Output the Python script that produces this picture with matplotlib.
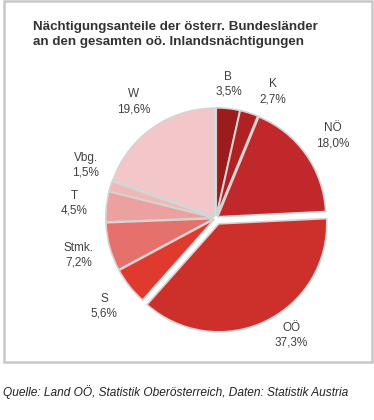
import matplotlib
matplotlib.use("Agg")
import matplotlib.pyplot as plt
from matplotlib.patches import Rectangle

plt.rcParams['font.family'] = ['Liberation Sans', 'DejaVu Sans']

categories = ["B", "K", "NÖ", "OÖ", "S", "Stmk.", "T", "Vbg.", "W"]
values = [3.5, 2.7, 18.0, 37.3, 5.6, 7.2, 4.5, 1.5, 19.6]
value_labels = ["3,5%", "2,7%", "18,0%", "37,3%", "5,6%", "7,2%", "4,5%", "1,5%", "19,6%"]
colors = ["#9b1c1c", "#b02222", "#c0282c", "#cd302a", "#e03a2e",
          "#e4716c", "#eca0a0", "#f1b7b7", "#f3c7c9"]
explode = [0.02, 0.02, 0.02, 0.06, 0.02, 0.02, 0.02, 0.02, 0.02]
# small label nudges (in radius units) to match the original placement
label_nudge = {"Vbg.": (0.06, 0.11), "B": (-0.03, -0.07), "K": (0.13, -0.09),
               "OÖ": (0.11, 0.14)}

W, H = 374, 420
fig = plt.figure(figsize=(W / 100, H / 100), dpi=100)
ax = fig.add_axes([0, 0, 1, 1])

labels = [f"{c}\n{v}" for c, v in zip(categories, value_labels)]
wedges, texts = ax.pie(values, colors=colors, explode=explode, startangle=90,
                       counterclock=False, labels=labels, labeldistance=1.3,
                       wedgeprops=dict(edgecolor="#d4d4d4", linewidth=1.2),
                       textprops=dict(fontsize=8.5, color="#404040"))
for c, t in zip(categories, texts):
    t.set_ha("center")
    t.set_va("center")
    t.set_linespacing(1.3)
    if c in label_nudge:
        x, y = t.get_position()
        dx, dy = label_nudge[c]
        t.set_position((x + dx, y + dy))

r = 108.0
cx, cy = 216, 218
ax.set_xlim(-cx / r, (W - cx) / r)
ax.set_ylim(-(H - cy) / r, cy / r)
ax.set_aspect("equal")
ax.axis("off")

fig.patches.append(Rectangle((4 / W, 1 - 362 / H), 368 / W, 361 / H,
                             transform=fig.transFigure, fill=False,
                             edgecolor="#c8c8c8", linewidth=1.8))

fig.text(33 / W, 1 - 21 / H,
         "Nächtigungsanteile der österr. Bundesländer\nan den gesamten oö. Inlandsnächtigungen",
         fontsize=9.6, fontweight="bold", color="#333333", va="top", ha="left",
         linespacing=1.3)
fig.text(3 / W, 1 - 392 / H,
         "Quelle: Land OÖ, Statistik Oberösterreich, Daten: Statistik Austria",
         fontsize=8.6, style="italic", color="#222222", va="center", ha="left")

fig.savefig("out.png", dpi=100)
